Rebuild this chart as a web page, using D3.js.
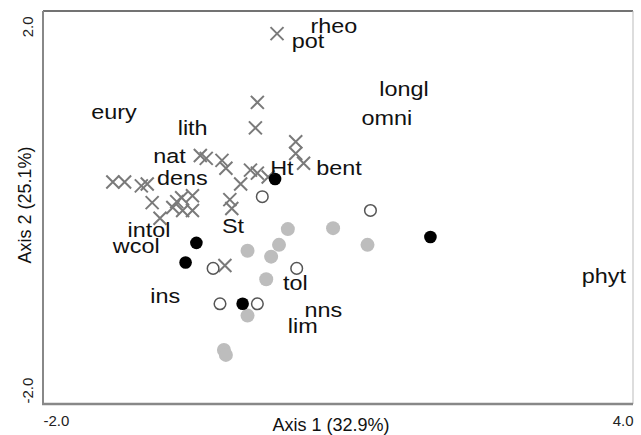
<!DOCTYPE html>
<html>
<head>
<meta charset="utf-8">
<script src="https://cdn.jsdelivr.net/npm/d3@7"></script>
<style>
  body { margin: 0; background: #fff; }
  svg { display: block; }
</style>
</head>
<body>
<svg id="chart" width="641" height="435"></svg>
<script>
// trait scores (grey crosses)
var traitPoints = [
  [0.38, 1.77], [0.18, 1.07], [0.16, 0.81], [0.57, 0.67], [0.57, 0.55],
  [0.65, 0.45], [-0.40, 0.53], [-0.34, 0.50], [-0.18, 0.48], [-0.14, 0.40],
  [0.11, 0.38], [0.18, 0.35], [0.01, 0.24], [0.29, 0.31], [-1.29, 0.26],
  [-1.17, 0.26], [-1.00, 0.22], [-0.94, 0.24], [-0.89, 0.05], [-0.81, -0.11],
  [-0.68, 0.00], [-0.64, 0.06], [-0.59, 0.10], [-0.48, 0.12], [-0.58, -0.03],
  [-0.48, -0.03], [-0.10, 0.08], [-0.08, -0.01], [-0.15, -0.59]
];

// site scores, one array per group
var openSites = [
  [0.23, 0.11], [1.33, -0.03], [0.58, -0.62], [-0.27, -0.62],
  [-0.20, -0.98], [0.18, -0.98]
];
var greySites = [
  [0.49, -0.22], [0.08, -0.44], [0.40, -0.38], [0.32, -0.50], [0.27, -0.73],
  [0.95, -0.21], [1.30, -0.38], [0.08, -1.10], [-0.16, -1.45], [-0.14, -1.50]
];
var blackSites = [
  [0.36, 0.29], [-0.44, -0.36], [-0.55, -0.56], [0.03, -0.98], [1.94, -0.30]
];

// labels
var labelNames = ["rheo", "pot", "longl", "omni", "bent", "eury", "lith", "nat",
  "dens", "Ht", "intol", "wcol", "St", "ins", "tol", "nns", "lim", "phyt"];
var labelX = [0.72, 0.53, 1.42, 1.24, 0.78, -1.51, -0.63, -0.88,
  -0.84, 0.31, -1.14, -1.29, -0.18, -0.91, 0.44, 0.66, 0.49, 3.48];
var labelY = [1.78, 1.62, 1.13, 0.84, 0.33, 0.90, 0.74, 0.45,
  0.23, 0.33, -0.30, -0.46, -0.26, -0.97, -0.84, -1.11, -1.28, -0.77];

var xTicks = [-2, 4], xTickLabels = ["-2.0", "4.0"];
var yTicks = [-2, 2], yTickLabels = ["-2.0", "2.0"];
var xTitle = "Axis 1 (32.9%)", yTitle = "Axis 2 (25.1%)";

var cfg = {
  left: 43, right: 633, top: 11, bottom: 404,
  font: "'Liberation Sans', Arial, Helvetica, sans-serif"
};

var svg = d3.select("#chart");

var x = d3.scaleLinear().domain([-2, 4]).range([cfg.left, cfg.right]);
var y = d3.scaleLinear().domain([-2, 2]).range([cfg.bottom, cfg.top]);

// x axis, end labels only
var gx = svg.append("g")
  .attr("transform", "translate(0," + cfg.bottom + ")")
  .call(d3.axisBottom(x).tickValues(xTicks).tickSize(0)
    .tickFormat(function(d, i){ return xTickLabels[i]; }));
gx.select(".domain").remove();
gx.selectAll("text")
  .attr("y", 22).attr("dy", 0)
  .attr("font-family", cfg.font)
  .attr("font-size", "15px")
  .attr("fill", "#222")
  .style("text-anchor", function(d, i){ return i === 0 ? "start" : "end"; });

// y axis, rotated end labels
var gy = svg.append("g")
  .attr("transform", "translate(" + cfg.left + ",0)")
  .call(d3.axisLeft(y).tickValues(yTicks).tickSize(0)
    .tickFormat(function(d, i){ return yTickLabels[i]; }));
gy.select(".domain").remove();
gy.selectAll("text")
  .attr("x", 0).attr("dy", 0)
  .attr("transform", function(d, i){
    return "translate(-10," + (i === 0 ? -1 : 5) + ") rotate(-90)";
  })
  .attr("font-family", cfg.font)
  .attr("font-size", "15px")
  .attr("fill", "#222")
  .style("text-anchor", function(d, i){ return i === 0 ? "start" : "end"; });

// frame
var frame = svg.append("g").attr("class", "frame");
frame.append("line")
  .attr("x1", cfg.left).attr("x2", cfg.right).attr("y1", cfg.top).attr("y2", cfg.top)
  .attr("stroke", "#444").attr("stroke-width", 1.5);
frame.append("line")
  .attr("x1", cfg.right).attr("x2", cfg.right).attr("y1", cfg.top).attr("y2", cfg.bottom)
  .attr("stroke", "#bbb").attr("stroke-width", 1);
frame.append("line")
  .attr("x1", cfg.left).attr("x2", cfg.left).attr("y1", cfg.top).attr("y2", cfg.bottom)
  .attr("stroke", "#888").attr("stroke-width", 2);
frame.append("line")
  .attr("x1", cfg.left - 1).attr("x2", cfg.right).attr("y1", cfg.bottom).attr("y2", cfg.bottom)
  .attr("stroke", "#888").attr("stroke-width", 2.5);

// crosses
var cs = 6.5;
svg.append("g")
  .selectAll("path")
  .data(traitPoints)
  .enter()
  .append("path")
    .attr("d", function(d){
      var px = x(d[0]), py = y(d[1]);
      return "M" + (px - cs) + "," + (py - cs) + "L" + (px + cs) + "," + (py + cs)
        + "M" + (px - cs) + "," + (py + cs) + "L" + (px + cs) + "," + (py - cs);
    })
    .attr("fill", "none")
    .attr("stroke", "#7a7a7a")
    .attr("stroke-width", 2);

svg.append("g")
  .selectAll("circle")
  .data(greySites)
  .enter()
  .append("circle")
    .attr("cx", function(d){ return x(d[0]); })
    .attr("cy", function(d){ return y(d[1]); })
    .attr("r", 7)
    .attr("fill", "#bdbdbd");

svg.append("g")
  .selectAll("circle")
  .data(openSites)
  .enter()
  .append("circle")
    .attr("cx", function(d){ return x(d[0]); })
    .attr("cy", function(d){ return y(d[1]); })
    .attr("r", 5.8)
    .attr("fill", "#fff")
    .attr("stroke", "#555")
    .attr("stroke-width", 1.5);

svg.append("g")
  .selectAll("circle")
  .data(blackSites)
  .enter()
  .append("circle")
    .attr("cx", function(d){ return x(d[0]); })
    .attr("cy", function(d){ return y(d[1]); })
    .attr("r", 6.3)
    .attr("fill", "#000");

// trait labels (glyphs a little wide in the source)
svg.append("g")
  .selectAll("text")
  .data(labelNames)
  .enter()
  .append("text")
    .attr("transform", function(d, i){
      return "translate(" + x(labelX[i]) + "," + y(labelY[i]) + ") scale(1.2,1)";
    })
    .text(function(d){ return d; })
    .attr("font-family", cfg.font)
    .attr("font-size", "19.5px")
    .attr("fill", "#111");

// axis titles
svg.append("text")
  .attr("x", 331).attr("y", 431)
  .text(xTitle)
  .attr("font-family", cfg.font)
  .attr("font-size", "18px")
  .attr("fill", "#111")
  .style("text-anchor", "middle");

svg.append("text")
  .attr("transform", "translate(31,205) rotate(-90)")
  .text(yTitle)
  .attr("font-family", cfg.font)
  .attr("font-size", "18px")
  .attr("fill", "#111")
  .style("text-anchor", "middle");
</script>
</body>
</html>
